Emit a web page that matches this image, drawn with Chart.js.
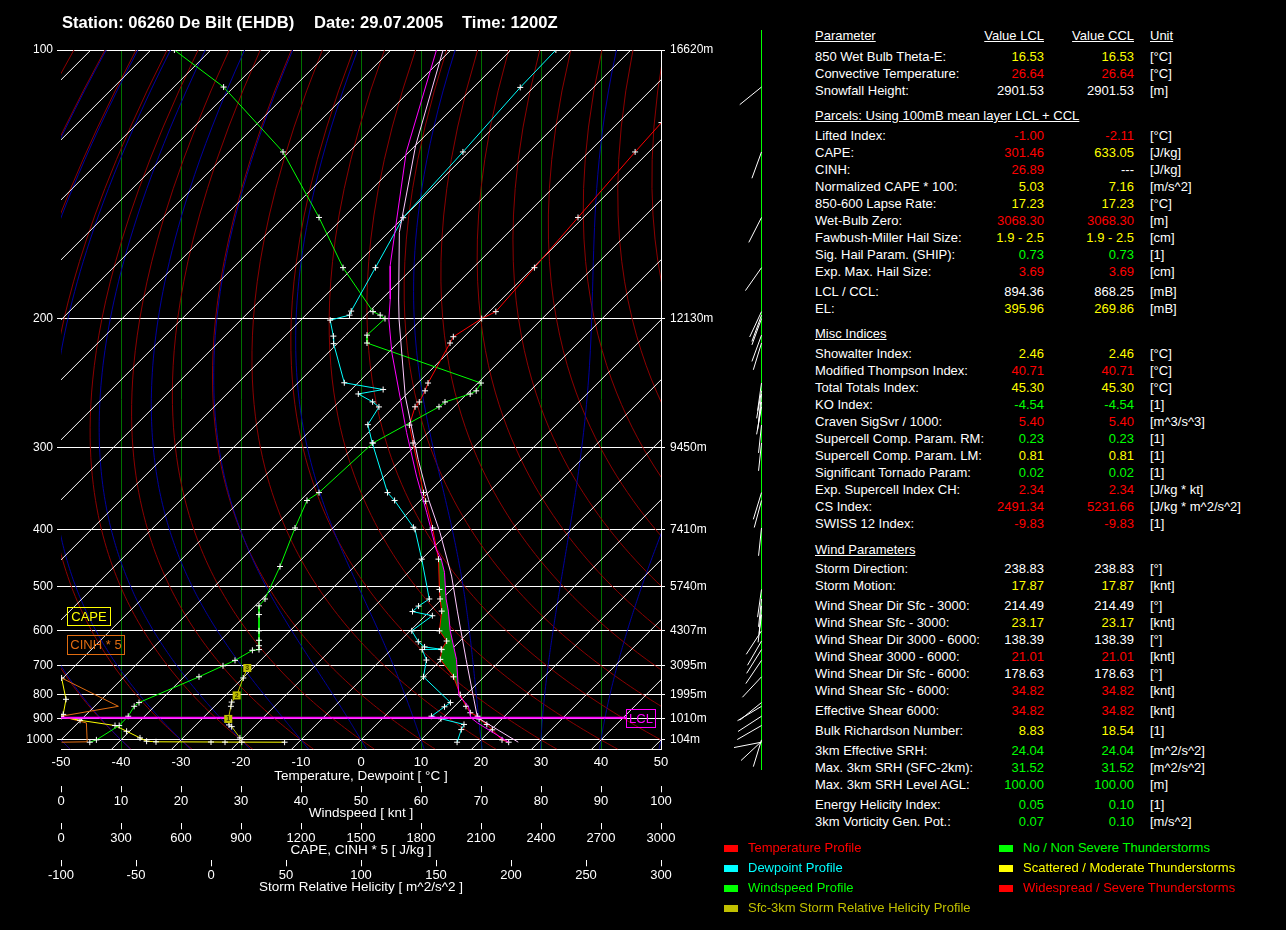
<!DOCTYPE html>
<html>
<head>
<meta charset="utf-8">
<title>Skew-T De Bilt 29.07.2005 1200Z</title>
<script src="https://cdn.jsdelivr.net/npm/chart.js@4.4.0/dist/chart.umd.min.js"></script>
<style>
  body { margin: 0; background: #000; width: 1286px; height: 930px; overflow: hidden; position: relative;
         font-family: 'Liberation Sans', Arial, sans-serif; color: #fff; }
  #plot { position: absolute; left: 0; top: 0; width: 800px; height: 930px; }
  .t { position: absolute; white-space: nowrap; line-height: 16px; font-size: 13px; }
  .u { text-decoration: underline; }
  .title { position: absolute; top: 13px; font-size: 16.6px; font-weight: bold; white-space: nowrap; }
  .box { position: absolute; font-size: 13px; text-align: center; box-sizing: border-box; }
  .sq { position: absolute; width: 14px; height: 7px; }
  .lg { position: absolute; font-size: 13px; line-height: 16px; white-space: nowrap; }
</style>
</head>
<body>
<div id="plot"><canvas id="chart"></canvas></div>
<div class="title" style="left:62px">Station: 06260 De Bilt (EHDB)</div>
<div class="title" style="left:314px">Date: 29.07.2005</div>
<div class="title" style="left:462px">Time: 1200Z</div>
<div class="box" style="left:67px;top:607px;width:44px;height:19px;border:1px solid #ffff00;color:#ffff00;line-height:17px">CAPE</div>
<div class="box" style="left:67px;top:635px;width:58px;height:20px;border:1px solid #e06c10;color:#e06c10;line-height:18px">CINH * 5</div>
<div class="box" style="left:626px;top:709px;width:30px;height:19px;border:1px solid #ff00ff;color:#ff00ff;line-height:17px">LCL</div>
<div id="table"></div>
<div id="legend"></div>
<script>
'use strict'

/* global Chart */

// ---- sounding data (pressure in hPa, temperatures in °C) ----
const pressureLevels = [100, 200, 300, 400, 500, 600, 700, 800, 900, 1000]
const levelHeights = ['16620m', '12130m', '9450m', '7410m', '5740m', '4307m', '3095m', '1995m', '1010m', '104m']

const tempP = [118.7, 127.6, 151, 173, 196, 200, 211, 215, 243, 249, 258, 262, 278, 295, 350, 361, 398, 448, 505, 525, 552, 600, 627, 651, 680, 736, 800, 846, 873, 888, 900, 925, 950, 1000, 1012]
const tempT = [-52.8, -52.3, -50.9, -49.8, -48.9, -50.1, -51.8, -51.3, -48.3, -47.5, -46.6, -46.5, -44.4, -40.8, -30.8, -29.0, -23.4, -17.2, -12.0, -10.3, -8.0, -5.1, -2.2, -1.6, -0.2, 4.9, 9.0, 11.9, 13.7, 15.5, 16.2, 18.4, 20.2, 23.5, 25.0]

const dewP = [100, 109.1, 127.6, 151.1, 173, 195.7, 198, 200.9, 210.6, 215.4, 242.8, 248, 251.5, 257.9, 262.1, 277.6, 295, 350, 360, 397, 400, 448, 525, 540.6, 553, 562.7, 600, 629, 643.4, 650, 651, 682, 736, 831, 848, 888, 899, 925, 949, 1012]
const dewT = [-82.5, -82.2, -81.0, -80.0, -76.3, -73.1, -72.7, -75.1, -71.9, -70.6, -62.3, -54.7, -58.1, -54.4, -52.5, -51.4, -47.6, -36.8, -34.3, -26.7, -26.1, -20.0, -12.1, -12.7, -12.8, -8.8, -9.7, -6.8, -4.9, -1.75, -4.85, -2.4, -0.1, 8.7, 8.4, 7.8, 9.8, 14.6, 15.0, 16.4]

const lclParcelP = [100, 127.7, 172.3, 189, 200.6, 221.3, 285, 330.3, 376.3, 431.6, 448, 471.8, 525, 552, 600, 680, 803, 846, 894.4, 918, 1012]
const lclParcelT = [-102.4, -90.4, -74.1, -68.6, -65.4, -59.4, -43.6, -34.7, -26.9, -19.2, -16.75, -14.0, -9.3, -6.9, -3.3, 2.5, 8.9, 12.3, 14.6, 16.6, 25.0]

const cclParcelP = [100, 125.7, 157.1, 189, 200.6, 253.3, 311.9, 358.7, 404.8, 478.7, 552, 680, 816, 894, 1012]
const cclParcelT = [-101.3, -89.9, -78.2, -67.2, -63.7, -49.9, -37.2, -28.8, -21.4, -12.2, -5.4, 4.1, 11.95, 15.7, 26.6]

const windP = [100, 109, 127.6, 151, 173, 196, 198, 200, 210, 215, 243, 249, 251.5, 258, 262, 295, 350, 360, 398, 461, 525, 540, 560, 600, 625, 640, 651, 653, 683, 700, 736, 831, 846, 888, 930, 1000, 1012]
const windKt = [18.9, 27.1, 37, 43, 47, 52, 53.2, 54, 51, 51, 70, 69.2, 68.2, 64, 63, 52, 43, 41, 39, 36.5, 34, 33, 33, 33, 33, 33, 33, 31.9, 29, 27, 23, 13, 12.2, 11.2, 9.7, 5.9, 4.8]

const barbP = [109, 127.6, 151, 173, 196, 198, 200, 210, 215, 243, 249, 251.5, 258, 262, 278, 295, 350, 360, 398, 505, 525, 540, 560, 600, 627, 651, 683, 736, 831, 846, 888, 930, 1000, 1008, 1012]
const barbDir = [231, 200, 207, 215, 205, 200, 200, 200, 197, 188, 190, 186, 188, 190, 186, 186, 197, 195, 186, 188, 186, 185, 187, 213, 210, 212, 214, 223, 231, 239, 237, 240, 197, 227, 259]

const capeP = [740, 818, 880, 890, 906, 930, 957, 990, 1007, 1010, 1011, 1011.5, 1012]
const capeVal = [3, 25, 11, 0, 95, 270, 328, 395, 428, 475, 750, 820, 1118]
const cinhP = [740, 846, 888, 918, 1010, 1012]
const cinh5Val = [3, 287, 0, 127, 131, 3]

const srhP = [707, 740, 803, 829, 846, 900, 927, 935, 990, 1012]
const srhVal = [24.2, 21.5, 17.1, 13.8, 13.3, 11.5, 12.0, 13.8, 19.3, 20.5]
const srhKmP = [900, 803, 707]
const srhKmVal = [11.5, 17.1, 24.2]
const srhKmLabel = ['1', '2', '3']

const lclPressure = 894.36
const capeTop = 440
const capeBottom = 805

// ---- pressure axis transform and 45 degree skew ----
const P_EXP = -0.35
const tr = p => Math.pow(p, P_EXP)
const TR_TOP = tr(100)
const TR_BOT = tr(1050)
const TR_1000 = tr(1000)
const SKEW = 699.3 / 6
const skew = p => SKEW * (tr(p) - TR_1000) / (TR_TOP - TR_BOT)
const pt = (p, t) => ({ x: t + skew(p), y: tr(p) })
const zip = (ps, vs) => ps.map((p, i) => ({ x: vs[i], y: tr(p) }))

const capeArea = []
tempP.forEach((p, i) => { if (p >= capeTop && p <= capeBottom) capeArea.push(pt(p, tempT[i])) })
for (let i = lclParcelP.length - 1; i >= 0; i--) {
  if (lclParcelP[i] >= capeTop && lclParcelP[i] <= capeBottom) capeArea.push(pt(lclParcelP[i], lclParcelT[i]))
}

// pseudo-adiabatic lapse rate for the moist adiabats
const satVap = tc => 6.112 * Math.exp(17.67 * tc / (tc + 243.5))
function dTdp (T, p) {
  const e = satVap(T - 273.15)
  const rs = 0.622 * e / (p - e)
  return (287.04 * T + 2.501e6 * rs) / (1005.7 + 2.501e6 * 2.501e6 * rs * 0.622 / (287.04 * T * T)) / p
}
function moistLine (tw) {
  const up = []
  let T = tw + 273.15
  for (let p = 1000; p >= 100; p -= 5) {
    up.push([p, T - 273.15])
    const k1 = dTdp(T, p)
    const k2 = dTdp(T - 5 * k1, p - 5)
    T -= 2.5 * (k1 + k2)
  }
  const down = []
  T = tw + 273.15
  for (let p = 1000; p <= 1050; p += 5) {
    down.unshift([p, T - 273.15])
    T += 5 * dTdp(T, p)
  }
  return down.concat(up.slice(1))
}

const skewGrid = {
  id: 'skewGrid',
  beforeDatasetsDraw (chart) {
    const { ctx, chartArea: a, scales: { x, y } } = chart
    const px = (p, t) => [x.getPixelForValue(t + skew(p)), y.getPixelForValue(tr(p))]
    const path = pts => {
      ctx.beginPath()
      pts.forEach(([p, t], i) => {
        const [X, Y] = px(p, t)
        if (i === 0) ctx.moveTo(X, Y)
        else ctx.lineTo(X, Y)
      })
      ctx.stroke()
    }
    ctx.save()
    ctx.beginPath()
    ctx.rect(a.left, a.top, a.right - a.left, a.bottom - a.top)
    ctx.clip()
    ctx.lineWidth = 1
    ctx.strokeStyle = '#8c0000'
    for (let th = -70; th <= 150; th += 10) {
      const pts = []
      for (let p = 1050; p >= 100; p -= 10) pts.push([p, (th + 273.15) * Math.pow(p / 1000, 0.286) - 273.15])
      path(pts)
    }
    ctx.strokeStyle = '#0000a0'
    for (let tw = -50; tw <= 50; tw += 10) path(moistLine(tw))
    ctx.strokeStyle = '#ffffff'
    for (let t = -170; t <= 50; t += 10) path([[1050, t], [100, t]])
    ctx.restore()
  },
  afterDatasetsDraw (chart) {
    const { ctx, chartArea: a, scales: { y, xs } } = chart
    const yl = y.getPixelForValue(tr(lclPressure))
    ctx.save()
    ctx.strokeStyle = '#ff00ff'
    ctx.lineWidth = 2
    ctx.beginPath()
    ctx.moveTo(a.left, yl)
    ctx.lineTo(626, yl)
    ctx.stroke()
    ctx.font = "bold 7px 'Liberation Sans', Arial"
    ctx.textAlign = 'center'
    ctx.textBaseline = 'middle'
    srhKmP.forEach((p, i) => {
      const X = xs.getPixelForValue(srhKmVal[i])
      const Y = y.getPixelForValue(tr(p))
      ctx.fillStyle = '#c0c000'
      ctx.fillRect(X - 4, Y - 4, 8, 8)
      ctx.fillStyle = '#404000'
      ctx.fillText(srhKmLabel[i], X, Y + 0.5)
    })
    ctx.restore()
  }
}

const windBarbs = {
  id: 'windBarbs',
  afterDraw (chart) {
    const { ctx, scales: { y } } = chart
    const x0 = 761.5
    ctx.save()
    ctx.lineWidth = 1
    ctx.strokeStyle = '#00ff00'
    ctx.beginPath()
    ctx.moveTo(x0, 30)
    ctx.lineTo(x0, 770)
    ctx.stroke()
    ctx.strokeStyle = '#ffffff'
    barbP.forEach((p, i) => {
      const y0 = y.getPixelForValue(tr(p))
      const d = barbDir[i] * Math.PI / 180
      ctx.beginPath()
      ctx.moveTo(x0, y0)
      ctx.lineTo(x0 + 28 * Math.sin(d), y0 - 28 * Math.cos(d))
      ctx.stroke()
    })
    ctx.restore()
  }
}

Chart.defaults.font.family = "'Liberation Sans', Arial, sans-serif"
Chart.defaults.color = '#fff'

const tickFont = { size: 13 }
const titleFont = { size: 13.5 }
const marks = { pointStyle: 'cross', pointRadius: 3, pointBorderColor: '#fff', pointBorderWidth: 1, pointHoverRadius: 3 }
const bottomAxis = (min, max, step, weight, text, extra) => Object.assign({
  type: 'linear',
  position: 'bottom',
  min,
  max,
  weight,
  afterFit: s => { s.height = 37 },
  ticks: { stepSize: step, color: '#fff', font: tickFont, padding: 1, autoSkip: false, maxRotation: 0, callback: v => String(v) },
  grid: { drawOnChartArea: false, tickLength: 6, tickColor: '#fff' },
  border: { display: false },
  title: { display: true, text, color: '#fff', font: titleFont, padding: { top: 0, bottom: 1.5 } }
}, extra)

const chart = new Chart(document.getElementById('chart'), {
  type: 'scatter',
  data: {
    datasets: [{
      label: 'Parcel LCL',
      data: lclParcelP.map((p, i) => pt(p, lclParcelT[i])),
      showLine: true,
      borderColor: '#ff00ff',
      borderWidth: 1,
      pointRadius: 0
    }, {
      label: 'Parcel CCL',
      data: cclParcelP.map((p, i) => pt(p, cclParcelT[i])),
      showLine: true,
      borderColor: '#ffc8ff',
      borderWidth: 1,
      pointRadius: 0
    }, Object.assign({
      label: 'Temperature',
      data: tempP.map((p, i) => pt(p, tempT[i])),
      showLine: true,
      borderColor: '#ff0000',
      borderWidth: 1
    }, marks), Object.assign({
      label: 'Dewpoint',
      data: dewP.map((p, i) => pt(p, dewT[i])),
      showLine: true,
      borderColor: '#00ffff',
      borderWidth: 1
    }, marks), Object.assign({
      label: 'Windspeed',
      data: zip(windP, windKt),
      xAxisID: 'xw',
      showLine: true,
      borderColor: '#00ff00',
      borderWidth: 1
    }, marks), Object.assign({
      label: 'SRH',
      data: zip(srhP, srhVal),
      xAxisID: 'xs',
      showLine: true,
      borderColor: '#c0c000',
      borderWidth: 1
    }, marks), Object.assign({
      label: 'CAPE',
      data: zip(capeP, capeVal),
      xAxisID: 'xc',
      showLine: true,
      borderColor: '#ffff00',
      borderWidth: 1
    }, marks), {
      label: 'CINH * 5',
      data: zip(cinhP, cinh5Val),
      xAxisID: 'xc',
      showLine: true,
      borderColor: '#e06c10',
      borderWidth: 1,
      pointRadius: 0
    }, {
      label: 'CAPE area',
      data: capeArea,
      showLine: true,
      borderWidth: 0,
      borderColor: '#008000',
      backgroundColor: '#008000',
      fill: 'shape',
      pointRadius: 0
    }]
  },
  options: {
    responsive: true,
    maintainAspectRatio: false,
    animation: false,
    events: [],
    layout: { padding: { top: 50, left: 0, right: 0, bottom: 32.7 } },
    plugins: { legend: { display: false }, tooltip: { enabled: false } },
    scales: {
      x: {
        type: 'linear',
        position: 'bottom',
        min: -50,
        max: 50,
        weight: 0,
        afterFit: s => { s.height = 37 },
        ticks: { stepSize: 10, color: '#fff', font: tickFont, padding: 5, autoSkip: false, maxRotation: 0, callback: v => String(v) },
        grid: { color: c => (c.tick && Math.abs(c.tick.value) === 50) ? 'rgba(0,0,0,0)' : '#007000', drawTicks: false },
        border: { color: '#fff' },
        title: { display: true, text: 'Temperature, Dewpoint [ °C ]', color: '#fff', font: titleFont, padding: { top: 0, bottom: 1.5 } }
      },
      xw: bottomAxis(0, 100, 10, 1, 'Windspeed [ knt ]'),
      xc: bottomAxis(0, 3000, 300, 2, 'CAPE, CINH * 5 [ J/kg ]'),
      xs: bottomAxis(-100, 300, 50, 3, 'Storm Relative Helicity [ m^2/s^2 ]'),
      y: {
        type: 'linear',
        position: 'left',
        min: TR_BOT,
        max: TR_TOP,
        afterFit: s => { s.width = 61 },
        afterBuildTicks: s => { s.ticks = pressureLevels.map(p => ({ value: tr(p) })) },
        ticks: { color: '#fff', font: { size: 12 }, padding: 4, autoSkip: false, callback: v => String(Math.round(Math.pow(v, 1 / P_EXP))) },
        grid: { color: '#fff', tickLength: 4, tickColor: '#fff' },
        border: { display: false }
      },
      y2: {
        type: 'linear',
        position: 'right',
        min: TR_BOT,
        max: TR_TOP,
        afterFit: s => { s.width = 139 },
        afterBuildTicks: s => { s.ticks = pressureLevels.map(p => ({ value: tr(p) })) },
        ticks: { color: '#fff', font: { size: 12 }, padding: 5, autoSkip: false, callback: (v, i) => levelHeights[i] },
        grid: { drawOnChartArea: false, tickLength: 4, tickColor: '#fff' },
        border: { display: true, color: '#fff' }
      }
    }
  },
  plugins: [skewGrid, windBarbs]
})

// ---- parameter table ----
const colors = { w: '#ffffff', y: '#ffff00', r: '#ff0000', g: '#00ff00' }
const headers = [
  [35.5, 'Parameter', 815, 'l'], [35.5, 'Value LCL', 1044, 'r'], [35.5, 'Value CCL', 1134, 'r'], [35.5, 'Unit', 1150, 'l'],
  [116, 'Parcels: Using 100mB mean layer LCL + CCL', 815, 'l'],
  [334, 'Misc Indices', 815, 'l'],
  [549.5, 'Wind Parameters', 815, 'l']
]
const rows = [
  [57, '850 Wet Bulb Theta-E:', '16.53', 'y', '16.53', 'y', '[°C]'],
  [74, 'Convective Temperature:', '26.64', 'r', '26.64', 'r', '[°C]'],
  [91, 'Snowfall Height:', '2901.53', 'w', '2901.53', 'w', '[m]'],
  [136, 'Lifted Index:', '-1.00', 'r', '-2.11', 'r', '[°C]'],
  [153, 'CAPE:', '301.46', 'r', '633.05', 'y', '[J/kg]'],
  [170, 'CINH:', '26.89', 'r', '---', 'w', '[J/kg]'],
  [187, 'Normalized CAPE * 100:', '5.03', 'y', '7.16', 'y', '[m/s^2]'],
  [204, '850-600 Lapse Rate:', '17.23', 'y', '17.23', 'y', '[°C]'],
  [221, 'Wet-Bulb Zero:', '3068.30', 'r', '3068.30', 'r', '[m]'],
  [238, 'Fawbush-Miller Hail Size:', '1.9 - 2.5', 'y', '1.9 - 2.5', 'y', '[cm]'],
  [255, 'Sig. Hail Param. (SHIP):', '0.73', 'g', '0.73', 'g', '[1]'],
  [272, 'Exp. Max. Hail Size:', '3.69', 'r', '3.69', 'r', '[cm]'],
  [292, 'LCL / CCL:', '894.36', 'w', '868.25', 'w', '[mB]'],
  [309, 'EL:', '395.96', 'y', '269.86', 'y', '[mB]'],
  [354, 'Showalter Index:', '2.46', 'y', '2.46', 'y', '[°C]'],
  [371, 'Modified Thompson Index:', '40.71', 'r', '40.71', 'r', '[°C]'],
  [388, 'Total Totals Index:', '45.30', 'y', '45.30', 'y', '[°C]'],
  [405, 'KO Index:', '-4.54', 'g', '-4.54', 'g', '[1]'],
  [422, 'Craven SigSvr / 1000:', '5.40', 'r', '5.40', 'r', '[m^3/s^3]'],
  [439, 'Supercell Comp. Param. RM:', '0.23', 'g', '0.23', 'g', '[1]'],
  [456, 'Supercell Comp. Param. LM:', '0.81', 'y', '0.81', 'y', '[1]'],
  [473, 'Significant Tornado Param:', '0.02', 'g', '0.02', 'g', '[1]'],
  [490, 'Exp. Supercell Index CH:', '2.34', 'r', '2.34', 'r', '[J/kg * kt]'],
  [507, 'CS Index:', '2491.34', 'r', '5231.66', 'r', '[J/kg * m^2/s^2]'],
  [524, 'SWISS 12 Index:', '-9.83', 'r', '-9.83', 'r', '[1]'],
  [569, 'Storm Direction:', '238.83', 'w', '238.83', 'w', '[°]'],
  [586, 'Storm Motion:', '17.87', 'y', '17.87', 'y', '[knt]'],
  [606, 'Wind Shear Dir Sfc - 3000:', '214.49', 'w', '214.49', 'w', '[°]'],
  [623, 'Wind Shear Sfc - 3000:', '23.17', 'y', '23.17', 'y', '[knt]'],
  [640, 'Wind Shear Dir 3000 - 6000:', '138.39', 'w', '138.39', 'w', '[°]'],
  [657, 'Wind Shear 3000 - 6000:', '21.01', 'r', '21.01', 'r', '[knt]'],
  [674, 'Wind Shear Dir Sfc - 6000:', '178.63', 'w', '178.63', 'w', '[°]'],
  [691, 'Wind Shear Sfc - 6000:', '34.82', 'r', '34.82', 'r', '[knt]'],
  [711, 'Effective Shear 6000:', '34.82', 'r', '34.82', 'r', '[knt]'],
  [731, 'Bulk Richardson Number:', '8.83', 'y', '18.54', 'y', '[1]'],
  [751, '3km Effective SRH:', '24.04', 'g', '24.04', 'g', '[m^2/s^2]'],
  [768, 'Max. 3km SRH (SFC-2km):', '31.52', 'g', '31.52', 'g', '[m^2/s^2]'],
  [785, 'Max. 3km SRH Level AGL:', '100.00', 'g', '100.00', 'g', '[m]'],
  [805, 'Energy Helicity Index:', '0.05', 'g', '0.10', 'g', '[1]'],
  [822, '3km Vorticity Gen. Pot.:', '0.07', 'g', '0.10', 'g', '[m/s^2]']
]

const table = document.getElementById('table')
function addText (parent, text, x, yc, align, color, cls) {
  const d = document.createElement('div')
  d.className = 't' + (cls ? ' ' + cls : '')
  d.textContent = text
  d.style.top = (yc - 8) + 'px'
  d.style.color = color
  if (align === 'r') {
    d.style.left = (x - 200) + 'px'
    d.style.width = '200px'
    d.style.textAlign = 'right'
  } else {
    d.style.left = x + 'px'
  }
  parent.appendChild(d)
}
headers.forEach(h => addText(table, h[1], h[2], h[0], h[3], '#fff', 'u'))
rows.forEach(r => {
  addText(table, r[1], 815, r[0], 'l', '#fff')
  addText(table, r[2], 1044, r[0], 'r', colors[r[3]])
  addText(table, r[4], 1134, r[0], 'r', colors[r[5]])
  addText(table, r[6], 1150, r[0], 'l', '#fff')
})

// ---- legend ----
const legendItems = [
  [724, 848, 'Temperature Profile', '#ff0000'],
  [724, 868, 'Dewpoint Profile', '#00ffff'],
  [724, 888, 'Windspeed Profile', '#00ff00'],
  [724, 908, 'Sfc-3km Storm Relative Helicity Profile', '#c0c000'],
  [999, 848, 'No / Non Severe Thunderstorms', '#00ff00'],
  [999, 868, 'Scattered / Moderate Thunderstorms', '#ffff00'],
  [999, 888, 'Widespread / Severe Thunderstorms', '#ff0000']
]
const legend = document.getElementById('legend')
legendItems.forEach(([x, yc, text, color]) => {
  const s = document.createElement('div')
  s.className = 'sq'
  s.style.left = x + 'px'
  s.style.top = (yc - 3) + 'px'
  s.style.background = color
  legend.appendChild(s)
  const l = document.createElement('div')
  l.className = 'lg'
  l.textContent = text
  l.style.left = (x + 24) + 'px'
  l.style.top = (yc - 8) + 'px'
  l.style.color = color
  legend.appendChild(l)
})
</script>
</body>
</html>
